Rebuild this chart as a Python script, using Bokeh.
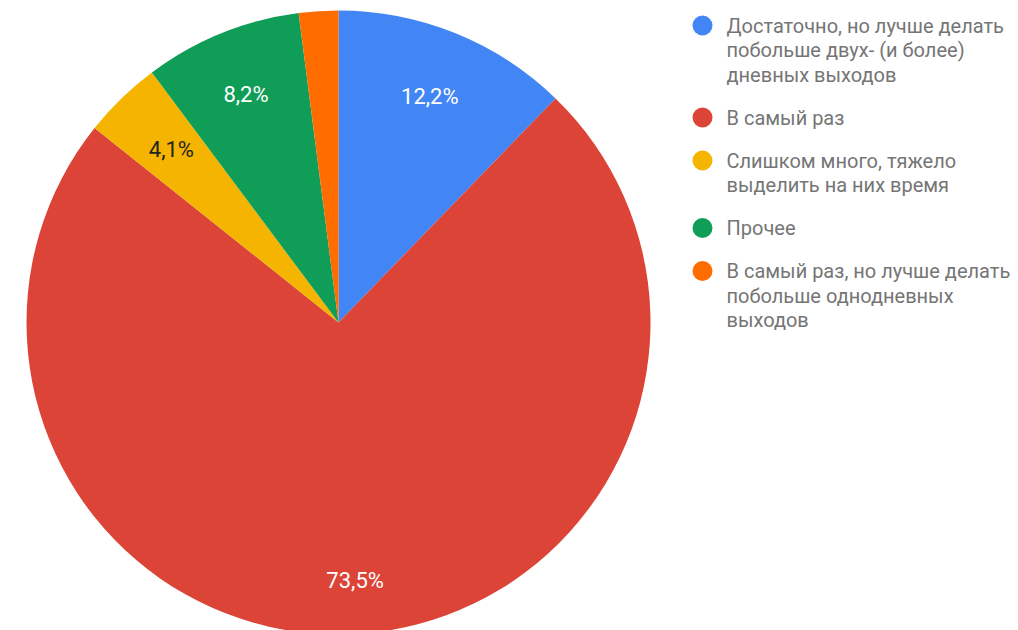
import math
from bokeh.plotting import figure
from bokeh.models import Range1d, ColumnDataSource
from bokeh.core.properties import value
from bokeh.embed import file_html
from bokeh.resources import INLINE

# ---- data ----
categories = [
    "Достаточно, но лучше делать\nпобольше двух- (и более)\nдневных выходов",
    "В самый раз",
    "Слишком много, тяжело\nвыделить на них время",
    "Прочее",
    "В самый раз, но лучше делать\nпобольше однодневных\nвыходов",
]
counts = [6, 36, 2, 4, 1]
colors = ["#4285F4", "#DB4437", "#F4B400", "#0F9D58", "#FF6D00"]
label_colors = ["#FFFFFF", "#FFFFFF", "#222222", "#FFFFFF", "#FFFFFF"]

# ---- layout (screen px -> data coords) ----
W, H = 1018, 630
def sx(x):
    return x
def sy(y):
    return H - y

cx, cy, R = sx(338), sy(322), 312

p = figure(width=W, height=H, output_backend="svg", toolbar_location=None,
           x_range=Range1d(0, W), y_range=Range1d(0, H), min_border=0)
p.axis.visible = False
p.grid.visible = False
p.outline_line_color = None
p.background_fill_color = "white"
p.border_fill_color = "white"

total = sum(counts)
fracs = [c / total for c in counts]
starts, ends, mids = [], [], []
cum = 0.0
for f in fracs:
    a0 = math.pi / 2 - 2 * math.pi * cum
    a1 = math.pi / 2 - 2 * math.pi * (cum + f)
    starts.append(a0)
    ends.append(a1)
    mids.append((a0 + a1) / 2)
    cum += f

src = ColumnDataSource(dict(start=starts, end=ends, color=colors))
p.wedge(x=cx, y=cy, radius=R, start_angle="start", end_angle="end",
        direction="clock", fill_color="color", line_color=None, source=src)

# slice labels
label_r = [0.78, 0.83, 0.77, 0.79, 0.8]
lx, ly, lt, lc = [], [], [], []
for i, f in enumerate(fracs):
    pct = round(f * 100, 1)
    if pct < 3:
        continue
    lx.append(cx + R * label_r[i] * math.cos(mids[i]))
    ly.append(cy + R * label_r[i] * math.sin(mids[i]))
    lt.append(f"{pct:.1f}%".replace(".", ","))
    lc.append(label_colors[i])
p.text(x=lx, y=ly, text=lt, text_color=lc, text_font=value("Roboto"),
       text_font_size="22px", text_align="center", text_baseline="middle")

# legend
line_h, gap = 24.5, 18.5
y = 25
mx, my, tx, ty, tt = [], [], [], [], []
for i, cat in enumerate(categories):
    lines = cat.split("\n")
    mx.append(sx(702))
    my.append(sy(y))
    for j, ln in enumerate(lines):
        tx.append(sx(726))
        ty.append(sy(y + j * line_h))
        tt.append(ln)
    y += len(lines) * line_h + gap
p.scatter(x=mx, y=my, size=20, marker="circle", fill_color=colors, line_color=None)
p.text(x=tx, y=ty, text=tt, text_color="#757575", text_font=value("Roboto"),
       text_font_size="20px", text_align="left", text_baseline="middle")

open("out.html", "w").write(file_html(p, INLINE))
